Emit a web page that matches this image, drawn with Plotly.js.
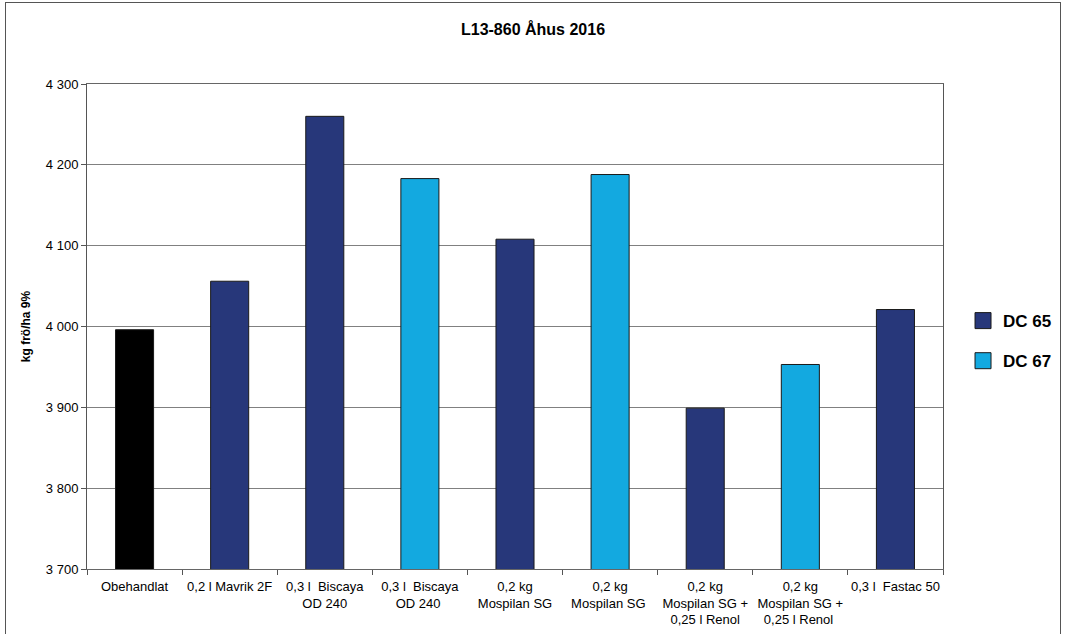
<!DOCTYPE html>
<html>
<head>
<meta charset="utf-8">
<script src="https://cdn.plot.ly/plotly-3.0.1.min.js"></script>
<style>
  html, body { margin: 0; padding: 0; background: #fff; }
  #chart { width: 1066px; height: 634px; }
  #frame { position: absolute; left: 5px; top: 2px; width: 1056px; height: 640px; border: 1.5px solid #555; pointer-events: none; box-sizing: border-box; }
</style>
</head>
<body>
<div id="chart"></div>
<div id="frame"></div>
<script>
const categories = [
  "Obehandlat",
  "0,2 l Mavrik 2F",
  "0,3 l\u00a0\u00a0Biscaya<br>OD 240",
  "0,3 l\u00a0\u00a0Biscaya<br>OD 240 ",
  "0,2 kg<br>Mospilan SG",
  "0,2 kg<br>Mospilan SG ",
  "0,2 kg<br>Mospilan SG +<br>0,25 l Renol",
  "0,2 kg<br>Mospilan SG +<br>0,25 l Renol ",
  "0,3 l\u00a0\u00a0Fastac 50"
];
const untreated = [3996, null, null, null, null, null, null, null, null];
const dc65 = [null, 4056, 4260, null, 4108, null, 3899, null, 4021];
const dc67 = [null, null, null, 4183, null, 4188, null, 3953, null];
const seriesNames = ["DC 65", "DC 67"];
const yTicks = [3700, 3800, 3900, 4000, 4100, 4200, 4300];
const yTickText = ["3 700", "3 800", "3 900", "4 000", "4 100", "4 200", "4 300"];

const colors = { untreated: "#000000", dc65: "#27377a", dc67: "#13a9e0" };
const barLine = { color: "#1a1a1a", width: 1 };
const traces = [
  { type: "bar", x: categories, y: untreated, name: "Obehandlat", showlegend: false,
    marker: { color: colors.untreated, line: barLine }, width: 0.4 },
  { type: "bar", x: categories, y: dc65, name: seriesNames[0], showlegend: false,
    marker: { color: colors.dc65, line: barLine }, width: 0.4 },
  { type: "bar", x: categories, y: dc67, name: seriesNames[1], showlegend: false,
    marker: { color: colors.dc67, line: barLine }, width: 0.4 },
  // legend entries (larger square swatches like the original)
  { type: "scatter", mode: "markers", x: [null], y: [null], name: "<b>" + seriesNames[0] + "</b>",
    legendgroup: "a", marker: { symbol: "square", size: 16, color: colors.dc65, line: { color: "#1a1a1a", width: 1 } } },
  { type: "scatter", mode: "markers", x: [null], y: [null], name: "<b>" + seriesNames[1] + "</b>",
    legendgroup: "b", marker: { symbol: "square", size: 16, color: colors.dc67, line: { color: "#1a1a1a", width: 1 } } }
];

const layout = {
  width: 1066, height: 634,
  paper_bgcolor: "#ffffff", plot_bgcolor: "#ffffff",
  margin: { l: 87, r: 123, t: 84, b: 65 },
  font: { family: "Liberation Sans, Arial, sans-serif", size: 13, color: "#000" },
  title: { text: "<b>L13-860 Åhus 2016</b>", x: 0.5, xanchor: "center", y: 0.953, yanchor: "middle",
           font: { size: 16, color: "#000" } },
  barmode: "overlay",
  showlegend: true,
  xaxis: {
    type: "category", showgrid: false, showline: true, linecolor: "#666", linewidth: 1,
    mirror: true, ticks: "outside", tickson: "boundaries", ticklen: 5, tickcolor: "#555",
    tickfont: { size: 13, color: "#000" }, tickangle: 0, automargin: false, ticklabelstandoff: 5
  },
  yaxis: {
    range: [3700, 4300], tickvals: yTicks, ticktext: yTickText,
    showgrid: true, gridcolor: "#808080", gridwidth: 1,
    showline: true, linecolor: "#555", linewidth: 1, mirror: true,
    ticks: "outside", ticklen: 5, tickcolor: "#555",
    tickfont: { size: 13, color: "#000" }, zeroline: false, automargin: false,
    title: { text: "<b>kg frö/ha 9%</b>", font: { size: 12, color: "#000" }, standoff: 12 }
  },
  legend: {
    xref: "container", x: 0.9034, xanchor: "left",
    y: 0.47, yanchor: "middle",
    font: { size: 17, color: "#000", family: "Liberation Sans, Arial, sans-serif" },
    tracegroupgap: 15, itemwidth: 30, bgcolor: "rgba(0,0,0,0)"
  }
};

Plotly.newPlot("chart", traces, layout, { displayModeBar: false, staticPlot: true });
</script>
</body>
</html>
